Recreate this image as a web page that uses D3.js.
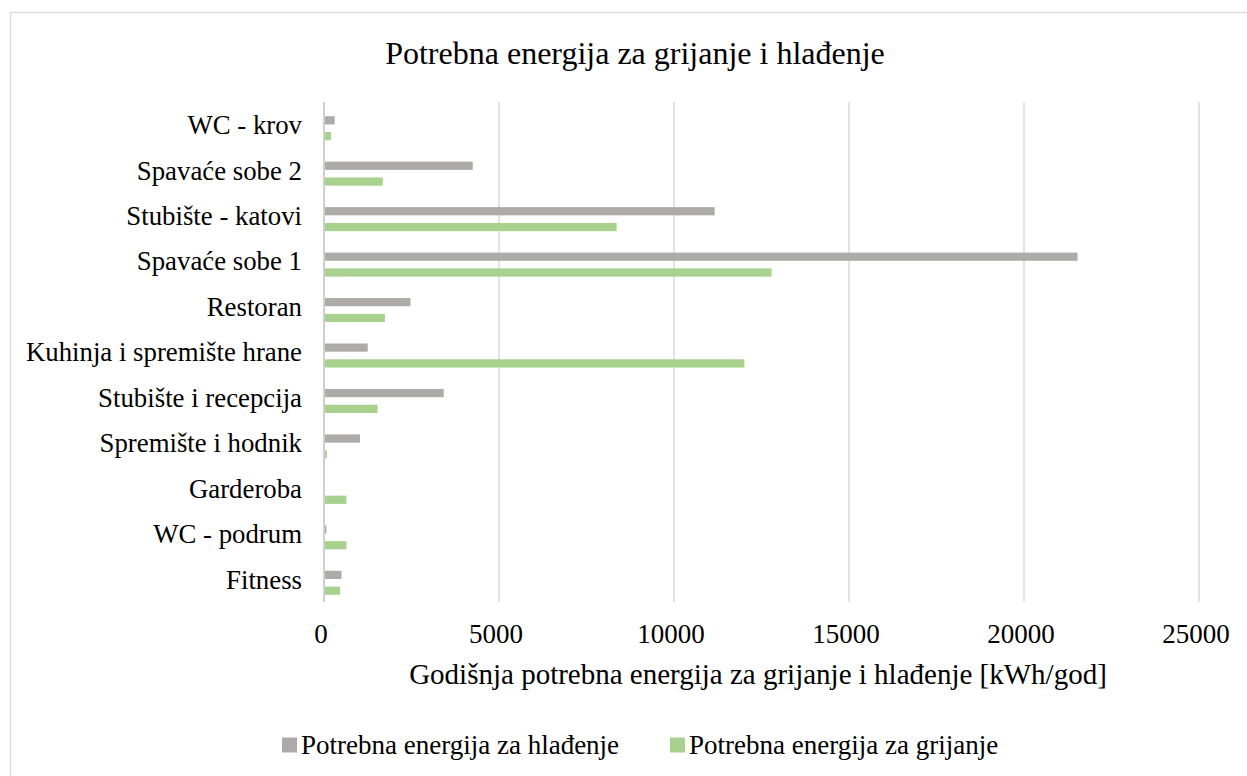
<!DOCTYPE html>
<html>
<head>
<meta charset="utf-8">
<script src="https://cdn.jsdelivr.net/npm/d3@7"></script>
<style>
  body { margin: 0; background: #fff; }
  text { font-family: "Liberation Serif", "Times New Roman", serif; fill: #000; }
</style>
</head>
<body>
<div id="chart"></div>
<script>
// categories top to bottom
const categories = ["WC - krov", "Spavaće sobe 2", "Stubište - katovi", "Spavaće sobe 1", "Restoran",
  "Kuhinja i spremište hrane", "Stubište i recepcija", "Spremište i hodnik", "Garderoba", "WC - podrum", "Fitness"];
const hladenje = [306, 4250, 11160, 21530, 2470, 1250, 3420, 1030, 0, 70, 500];
const grijanje = [200, 1680, 8360, 12790, 1740, 12010, 1530, 80, 640, 640, 460];
const seriesNames = ["Potrebna energija za hlađenje", "Potrebna energija za grijanje"];
const seriesColors = ["#AEAAAA", "#A9D18E"];
const xTicks = [0, 5000, 10000, 15000, 20000, 25000];

function drawChart() {
  d3.select("#chart").select("svg").remove();
  const width = 1247, height = 776;
  const plot = { left: 324, right: 1199, top: 102, bottom: 602 };

  const svg = d3.select("#chart").append("svg")
    .attr("width", width).attr("height", height);

  // chart area border
  svg.append("rect")
    .attr("x", 10.5).attr("y", 12.5)
    .attr("width", 1260).attr("height", 800)
    .attr("fill", "none").attr("stroke", "#D9D9D9").attr("stroke-width", 1.3);

  const x = d3.scaleLinear().domain([0, 25000]).range([plot.left, plot.right]);
  const y = d3.scaleBand().domain(categories).range([plot.top, plot.bottom]);
  const inner = d3.scaleBand().domain([0, 1]).range([0, 24]).paddingInner(0.48);
  const barOffset = (y.bandwidth() - 24) / 2 + 3.5;

  // gridlines
  svg.append("g").selectAll("line")
    .data(xTicks.slice(1))
    .enter().append("line")
      .attr("x1", d => x(d)).attr("x2", d => x(d))
      .attr("y1", plot.top).attr("y2", plot.bottom)
      .attr("stroke", "#D9D9D9").attr("stroke-width", 1.5);

  // category axis line
  svg.append("line")
    .attr("x1", x(0)).attr("x2", x(0))
    .attr("y1", plot.top).attr("y2", plot.bottom)
    .attr("stroke", "#BFBFBF").attr("stroke-width", 1.5);

  // bars
  const rows = categories.map((c, i) => ({ cat: c, vals: [hladenje[i], grijanje[i]] }));
  const groups = svg.append("g").selectAll("g")
    .data(rows).enter().append("g")
      .attr("transform", d => `translate(0, ${y(d.cat) + barOffset})`);
  groups.selectAll("rect")
    .data(d => d.vals.map((v, s) => ({ v, s })))
    .enter().append("rect")
      .attr("x", x(0) + 1)
      .attr("y", d => inner(d.s))
      .attr("width", d => Math.max(0, x(d.v) - x(0) - 1))
      .attr("height", inner.bandwidth())
      .attr("fill", d => seriesColors[d.s]);

  // category labels
  svg.append("g").selectAll("text")
    .data(categories).enter().append("text")
      .attr("x", 302)
      .attr("y", d => y(d) + y.bandwidth() / 2)
      .attr("dy", "0.35em")
      .attr("text-anchor", "end")
      .attr("font-size", 26.8)
      .text(d => d);

  // x tick labels
  svg.append("g").selectAll("text")
    .data(xTicks).enter().append("text")
      .attr("x", d => x(d) - 3)
      .attr("y", 643)
      .attr("text-anchor", "middle")
      .attr("font-size", 27)
      .text(d => d);

  // axis title
  svg.append("text")
    .attr("x", 758).attr("y", 684)
    .attr("text-anchor", "middle")
    .attr("font-size", 29)
    .text("Godišnja potrebna energija za grijanje i hlađenje [kWh/god]");

  // chart title
  svg.append("text")
    .attr("x", 635).attr("y", 64)
    .attr("text-anchor", "middle")
    .attr("font-size", 32)
    .text("Potrebna energija za grijanje i hlađenje");

  // legend
  const legendX = [282, 670];
  const legend = svg.append("g").selectAll("g")
    .data(seriesNames).enter().append("g")
      .attr("transform", (d, i) => `translate(${legendX[i]}, 745)`);
  legend.append("rect")
    .attr("x", 0).attr("y", -7.5)
    .attr("width", 15).attr("height", 15)
    .attr("fill", (d, i) => seriesColors[i]);
  legend.append("text")
    .attr("x", 19).attr("y", 0)
    .attr("dy", "0.35em")
    .attr("font-size", 27)
    .text(d => d);
}

drawChart();
</script>
</body>
</html>
